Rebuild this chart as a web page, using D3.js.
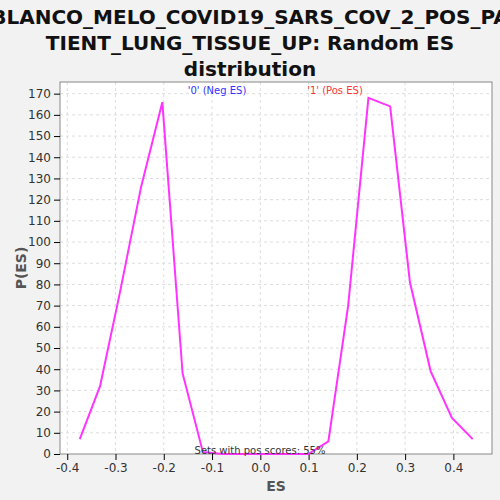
<!DOCTYPE html><html><head><meta charset="utf-8"><script src="https://cdn.jsdelivr.net/npm/d3@7"></script>
<style>body{margin:0;background:#f2f2f2}</style></head><body><svg id="c" width="500" height="500"></svg>
<script>
const esValues=[-0.374,-0.332,-0.291,-0.247,-0.203,-0.161,-0.119,-0.078,-0.036,0.006,0.047,0.0995,0.141,0.182,0.224,0.269,0.310,0.353,0.397,0.440];
const pValues=[7,32,76,126,166,38,1,0,0,0,0,0,6,70,168,164,81,39,17,7];
const xTicks=[-0.4,-0.3,-0.2,-0.1,0.0,0.1,0.2,0.3,0.4];
const titleLines=["BLANCO_MELO_COVID19_SARS_COV_2_POS_PA","TIENT_LUNG_TISSUE_UP: Random ES","distribution"];
const svg=d3.select("#c");
const L=60,R=492,T=82,B=454;
const x=d3.scaleLinear().domain([-0.415,0.48]).range([L,R]);
const y=d3.scaleLinear().domain([0,175.5]).range([B,T]);
svg.append("rect").attr("x",L).attr("y",T).attr("width",R-L).attr("height",B-T).attr("fill","#fff");
const g=svg.append("g");
g.selectAll(".gx").data(xTicks).join("line").attr("x1",d=>x(d)).attr("x2",d=>x(d)).attr("y1",T).attr("y2",B).attr("stroke","#ddd").attr("stroke-dasharray","3,3");
g.selectAll(".gy").data(d3.range(10,171,10)).join("line").attr("x1",L).attr("x2",R).attr("y1",d=>y(d)).attr("y2",d=>y(d)).attr("stroke","#ddd").attr("stroke-dasharray","3,3");
svg.append("rect").attr("x",L).attr("y",T).attr("width",R-L).attr("height",B-T).attr("fill","none").attr("stroke","#888");
svg.append("g").attr("transform",`translate(0,${B})`).call(d3.axisBottom(x).tickValues(xTicks).tickFormat(d=>d3.format(".1f")(d).replace("\u2212","-")).tickSizeOuter(0)).call(a=>{a.select(".domain").remove();a.selectAll("text").attr("font-size",12).attr("font-family","DejaVu Sans").attr("fill","#333");});
svg.append("g").attr("transform",`translate(${L},0)`).call(d3.axisLeft(y).tickValues(d3.range(0,171,10)).tickSizeOuter(0)).call(a=>{a.select(".domain").remove();a.selectAll("text").attr("font-size",12).attr("font-family","DejaVu Sans").attr("fill","#333");});
svg.append("path").datum(esValues.map((e,i)=>[e,pValues[i]])).attr("d",d3.line().x(d=>x(d[0])).y(d=>y(d[1]))).attr("fill","none").attr("stroke","#ff33ff").attr("stroke-width",2);
svg.append("text").attr("x",217).attr("y",94).attr("text-anchor","middle").attr("font-size",10).attr("font-family","DejaVu Sans").attr("fill","#3333ff").text("'0' (Neg ES)");
svg.append("text").attr("x",335).attr("y",94).attr("text-anchor","middle").attr("font-size",10).attr("font-family","DejaVu Sans").attr("fill","#ff3333").text("'1' (Pos ES)");
svg.append("text").attr("x",260).attr("y",454).attr("text-anchor","middle").attr("font-size",10).attr("font-family","DejaVu Sans").attr("fill","#333").text("Sets with pos scores: 55%");
titleLines.forEach((t,i)=>svg.append("text").attr("x",250).attr("y",24+i*26).attr("text-anchor","middle").attr("font-size",20).attr("font-weight","bold").attr("font-family","DejaVu Sans").attr("fill","#111").text(t));
svg.append("text").attr("x",276).attr("y",491).attr("text-anchor","middle").attr("font-size",14).attr("font-weight","bold").attr("font-family","DejaVu Sans").attr("fill","#555").text("ES");
svg.append("text").attr("transform","translate(26,268) rotate(-90)").attr("text-anchor","middle").attr("font-size",14).attr("font-weight","bold").attr("font-family","DejaVu Sans").attr("fill","#555").text("P(ES)");
</script></body></html>
